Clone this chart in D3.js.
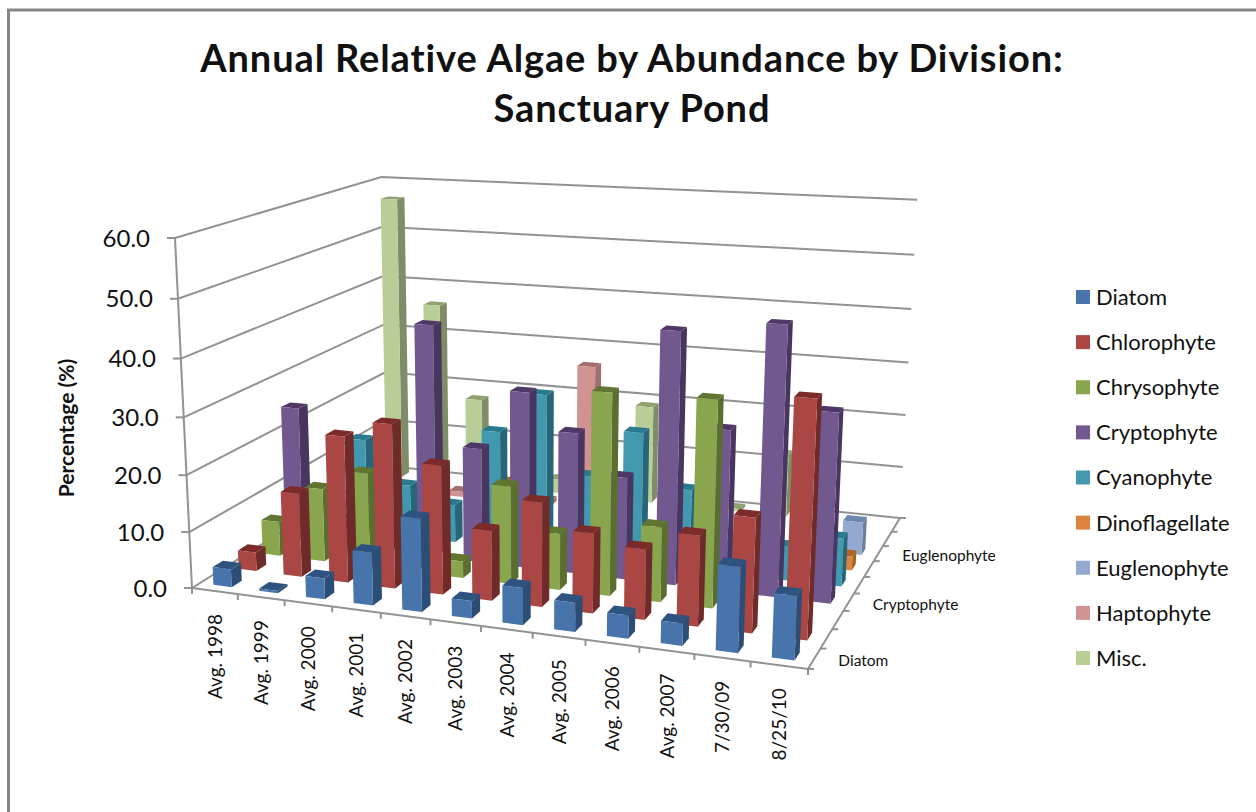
<!DOCTYPE html>
<html>
<head>
<meta charset="utf-8">
<script src="https://cdnjs.cloudflare.com/ajax/libs/d3/7.8.5/d3.min.js"></script>
<style>
  html, body { margin: 0; padding: 0; background: #fff; }
  svg { display: block; }
  text { font-family: Lato, "Open Sans", sans-serif; fill: #111; }
</style>
</head>
<body>
<svg id="chart" width="1256" height="812"></svg>
<script>
const categories = ["Avg. 1998","Avg. 1999","Avg. 2000","Avg. 2001","Avg. 2002","Avg. 2003","Avg. 2004","Avg. 2005","Avg. 2006","Avg. 2007","7/30/09","8/25/10"];
const seriesNames = ["Diatom","Chlorophyte","Chrysophyte","Cryptophyte","Cyanophyte","Dinoflagellate","Euglenophyte","Haptophyte","Misc."];
const depthLabels = ["Diatom","Cryptophyte","Euglenophyte"];
const valueTicks = [0,10,20,30,40,50,60];

const diatom         = [3.2, 0.4, 3.7, 9.2, 16, 3.0, 6.3, 4.9, 3.9, 3.7, 14, 10.4];
const chlorophyte    = [3.4, 15, 25.9, 28.8, 22.5, 12.2, 18, 13.7, 12, 15.3, 19.2, 39];
const chrysophyte    = [6.3, 13.3, 17, 2, 3, 17.3, 9.9, 35, 13, 35.3, 0, 0];
const cryptophyte    = [25, 5, 6, 42, 20.7, 31.5, 25.1, 18.1, 44, 28, 46.3, 32.5];
const cyanophyte     = [0, 17.6, 9.8, 7, 21.5, 29, 15, 23.7, 14.3, 5, 6, 8.5];
const dinoflagellate = [0, 0, 0, 0, 9.5, 0, 0, 0, 0, 0, 0, 2.5];
const euglenophyte   = [0, 0, 0, 0, 0, 0, 0, 0, 0, 0, 0, 6];
const haptophyte     = [0, 0, 1, 0, 1, 28.2, 0, 0, 0, 0, 0, 0];
const misc           = [56.6, 36, 17.5, 0, 2.7, 0, 19, 0, 0.5, 12, 0, 0];
const seriesValues = [diatom, chlorophyte, chrysophyte, cryptophyte, cyanophyte, dinoflagellate, euglenophyte, haptophyte, misc];

// front, side and top shades of each series
const frontColors = ["#4674AB","#AA4643","#89A54E","#71588F","#4198AF","#DB843D","#93A9CF","#D19392","#B9CD96"];
const sideColors  = ["#2C4D75","#6F2B29","#5A6E2F","#483560","#27667A","#A5621F","#6E7F9B","#9D6F6E","#7F8C68"];
const topColors   = ["#2F5380","#7D2A2A","#5F7530","#4F3768","#2A7A8F","#B0621F","#6E87AD","#A06F6E","#90A270"];

const svg = d3.select("#chart");

// Perspective set-up: floor corners on screen, plus the vertical vanishing point
const floorQuad = { fl: [192,588], fr: [808,669], br: [900,518], bl: [387,466] };
const topFrontLeft = [175,238];
const topBackRight = [917,203];

function squareToQuad(p00, p10, p11, p01) {
  const dx1 = p10[0]-p11[0], dx2 = p01[0]-p11[0], sx = p00[0]-p10[0]+p11[0]-p01[0];
  const dy1 = p10[1]-p11[1], dy2 = p01[1]-p11[1], sy = p00[1]-p10[1]+p11[1]-p01[1];
  const d = dx1*dy2-dx2*dy1;
  const g = (sx*dy2-dx2*sy)/d, h = (dx1*sy-sx*dy1)/d;
  return [p10[0]-p00[0]+g*p10[0], p01[0]-p00[0]+h*p01[0], p00[0],
          p10[1]-p00[1]+g*p10[1], p01[1]-p00[1]+h*p01[1], p00[1],
          g, h, 1];
}
const H = squareToQuad(floorQuad.fl, floorQuad.fr, floorQuad.br, floorQuad.bl);

function lineIntersect(a, b, c, d) {
  const A1 = b[1]-a[1], B1 = a[0]-b[0], C1 = A1*a[0]+B1*a[1];
  const A2 = d[1]-c[1], B2 = c[0]-d[0], C2 = A2*c[0]+B2*c[1];
  const det = A1*B2-A2*B1;
  return [(C1*B2-C2*B1)/det, (A1*C2-A2*C1)/det];
}
const vanish = lineIntersect(floorQuad.fl, topFrontLeft, floorQuad.br, topBackRight);
// homogeneous weight per unit of height, fixed by the top of the value axis
const heightWeight = ((floorQuad.fl[1]-topFrontLeft[1])/(topFrontLeft[1]-vanish[1]));

// u, v are floor units; z is 0..1 of the value axis
function project(u, v, z) {
  const nu = u/categories.length, nv = v/seriesNames.length;
  const w = H[6]*nu+H[7]*nv+H[8];
  const x = H[0]*nu+H[1]*nv+H[2];
  const y = H[3]*nu+H[4]*nv+H[5];
  const k = z*heightWeight;
  const W = w+k;
  return [(x+k*vanish[0])/W, (y+k*vanish[1])/W];
}

const uScale = d3.scaleBand().domain(categories).range([0,categories.length]).paddingInner(0.6).paddingOuter(0.3);
const vScale = d3.scaleBand().domain(seriesNames).range([0,seriesNames.length]).paddingInner(0.6).paddingOuter(0.3);
const zScale = d3.scaleLinear().domain([0,60]).range([0,1]);

const lineGen = d3.line();
const gridColor = "#929292";

// Chart frame: only the top and left edges fall inside the page
svg.append("path").attr("d","M1256,10H8.5V812").attr("fill","none").attr("stroke","#868686").attr("stroke-width",3);

// Walls and floor
const walls = svg.append("g").attr("fill","none").attr("stroke",gridColor).attr("stroke-width",2);
const nU = categories.length, nV = seriesNames.length;
walls.selectAll("path.left").data(valueTicks).join("path").attr("class","left")
  .attr("d", t => lineGen([project(0,0,zScale(t)), project(0,nV,zScale(t)), project(nU,nV,zScale(t))]));
walls.append("path").attr("d", lineGen([project(0,0,0), project(0,0,1)]));
walls.append("path").attr("d", lineGen([project(0,0,0), project(nU,0,0), project(nU,nV,0)]));

// Tick marks
walls.selectAll("path.ytick").data(valueTicks).join("path").attr("class","ytick")
  .attr("d", t => { const p = project(0,0,zScale(t)); return lineGen([[p[0]-8,p[1]],p]); });
walls.selectAll("path.xtick").data(d3.range(nU+1)).join("path").attr("class","xtick")
  .attr("d", i => { const p = project(i,0,0); return lineGen([p,[p[0],p[1]+6]]); });
walls.selectAll("path.dtick").data(d3.range(nV+1)).join("path").attr("class","dtick")
  .attr("d", i => { const p = project(nU,i,0); return lineGen([p,[p[0]+6,p[1]]]); });

// Bars, painted back to front and left to right
const bars = [];
for (let s = nV-1; s >= 0; s--) {
  categories.forEach((c, i) => {
    const val = seriesValues[s][i];
    if (val > 0) bars.push({ s, cat: c, val });
  });
}
const barGroups = svg.append("g").selectAll("g").data(bars).join("g");
function corners(d) {
  const u0 = uScale(d.cat), u1 = u0+uScale.bandwidth();
  const v0 = vScale(seriesNames[d.s]), v1 = v0+vScale.bandwidth();
  const z = zScale(d.val);
  return { u0, u1, v0, v1, z };
}
barGroups.append("path").attr("fill", d => sideColors[d.s]).attr("d", d => {
  const c = corners(d);
  return lineGen([project(c.u1,c.v0,0), project(c.u1,c.v1,0), project(c.u1,c.v1,c.z), project(c.u1,c.v0,c.z)])+"Z";
});
barGroups.append("path").attr("fill", d => topColors[d.s]).attr("d", d => {
  const c = corners(d);
  return lineGen([project(c.u0,c.v0,c.z), project(c.u1,c.v0,c.z), project(c.u1,c.v1,c.z), project(c.u0,c.v1,c.z)])+"Z";
});
barGroups.append("path").attr("fill", d => frontColors[d.s]).attr("d", d => {
  const c = corners(d);
  return lineGen([project(c.u0,c.v0,0), project(c.u1,c.v0,0), project(c.u1,c.v0,c.z), project(c.u0,c.v0,c.z)])+"Z";
});

// Title
svg.append("g").attr("font-weight",700).attr("font-size",38).attr("letter-spacing",0.88).attr("text-anchor","middle")
  .selectAll("text").data(["Annual Relative Algae by Abundance by Division:","Sanctuary Pond"]).join("text")
  .attr("x",632).attr("y",(d,i)=>72+i*50).text(d=>d);

// Value axis labels and title
const yFmt = d3.format(".1f");
svg.append("g").attr("font-size",24).attr("text-anchor","end")
  .selectAll("text").data(valueTicks).join("text")
  .attr("x", t => project(0,0,zScale(t))[0]-25)
  .attr("y", t => project(0,0,zScale(t))[1])
  .attr("dy","0.36em").text(yFmt);
svg.append("text").attr("transform","translate(74,428) rotate(-90)")
  .attr("text-anchor","middle").attr("font-weight",700).attr("font-size",21).text("Percentage (%)");

// Category labels read bottom to top below the front edge
svg.append("g").attr("font-size",19).attr("text-anchor","end")
  .selectAll("text").data(categories).join("text")
  .attr("transform", c => {
    const p = project(uScale(c)+uScale.bandwidth()/2,0,0);
    return `translate(${p[0]},${p[1]+23}) rotate(-90)`;
  }).attr("dy","0.36em").text(d=>d);

// Depth axis labels
svg.append("g").attr("font-size",15.5)
  .selectAll("text").data(depthLabels).join("text")
  .attr("x", d => project(nU,vScale(d)+vScale.bandwidth()/2,0)[0]+24)
  .attr("y", d => project(nU,vScale(d)+vScale.bandwidth()/2,0)[1]+2)
  .attr("dy","0.36em").text(d=>d);

// Legend
const legendY = d3.scalePoint().domain(seriesNames).range([297,658]);
const legend = svg.append("g").selectAll("g").data(seriesNames).join("g")
  .attr("transform", d => `translate(1076,${legendY(d)})`);
legend.append("rect").attr("x",0).attr("y",-7).attr("width",14).attr("height",14).attr("fill",(d,i)=>frontColors[i]);
legend.append("text").attr("x",20).attr("dy","0.36em").attr("font-size",22).text(d=>d);
</script>
</body>
</html>
